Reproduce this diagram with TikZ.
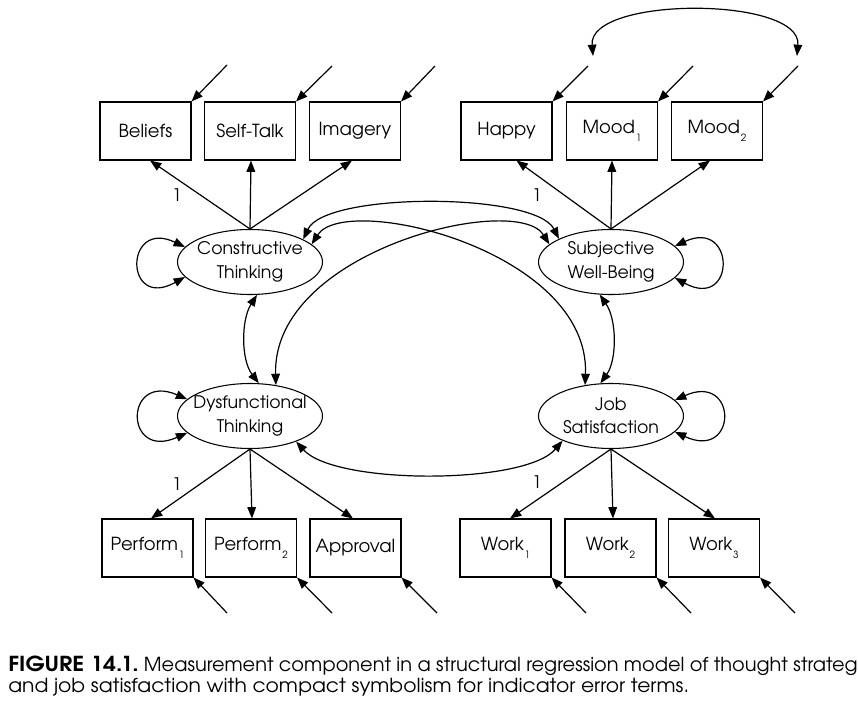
\documentclass[tikz,border=0pt]{standalone}
\usepackage{fontspec}
\setmainfont{TeX Gyre Adventor}
\usetikzlibrary{arrows.meta,calc,shapes.geometric}
\newcommand\lsub[1]{\kern0.6pt\raisebox{-6.5pt}{\fontsize{7.5}{8}\selectfont #1}}
\begin{document}
\begin{tikzpicture}[x=0.75pt,y=-0.75pt,
  ind/.style={draw,line width=0.8pt,minimum width=68.25pt,minimum height=43.5pt,inner sep=0pt,font=\fontsize{13.5}{16}\selectfont},
  lat/.style={draw,ellipse,line width=0.8pt,minimum width=108.75pt,minimum height=48.75pt,inner sep=0pt},
  lattxt/.style={align=center,font=\fontsize{13}{17.5}\selectfont,inner sep=0pt},
  arr/.style={line width=0.9pt,-{Triangle[length=8.5pt,width=6.5pt]}},
  darr/.style={line width=0.9pt,{Triangle[length=8.5pt,width=6.5pt]}-{Triangle[length=8.5pt,width=6.5pt]}},
  lbl/.style={font=\fontsize{13}{15}\selectfont,inner sep=0pt},
  captxt/.style={anchor=base west,inner sep=0pt,font=\fontsize{14.5}{17}\selectfont}
]
\useasboundingbox (0,0) rectangle (858,710);
% indicators
\node[ind] (bel) at (145.5,131) {Beliefs};
\node[ind] (st) at (250,131) {Self-Talk};
\node[ind] (img) at (355,131) {Imagery};
\node[ind] (hap) at (506.5,131) {Happy};
\node[ind] (m1) at (612,131) {Mood\lsub{1}};
\node[ind] (m2) at (717,131) {Mood\lsub{2}};
\node[ind] (p1) at (147.5,548) {Perform\lsub{1}};
\node[ind] (p2) at (251,548) {Perform\lsub{2}};
\node[ind] (app) at (355.5,548) {Approval};
\node[ind] (w1) at (505.5,548) {Work\lsub{1}};
\node[ind] (w2) at (610.5,548) {Work\lsub{2}};
\node[ind] (w3) at (714,548) {Work\lsub{3}};
% latents
\node[lat] (ct) at (250,262) {};
\node[lattxt] (ctt) at (ct) {Constructive\\Thinking};
\node[lat] (sw) at (611,262) {};
\node[lattxt] (swt) at (sw) {Subjective\\Well-Being};
\node[lat] (dt) at (250,416) {};
\node[lattxt] (dtt) at (dt) {Dysfunctional\\Thinking};
\node[lat] (js) at (611,416) {};
\node[lattxt] (jst) at (js) {Job\\Satisfaction};
% loadings
\draw[arr] (ct.north) -- ($(bel.south)+(4.5,0)$);
\draw[arr] (ct.north) -- ($(st.south)+(1,0)$);
\draw[arr] (ct.north) -- ($(img.south)+(-3,0)$);
\draw[arr] (sw.north) -- ($(hap.south)+(10,0)$);
\draw[arr] (sw.north) -- (m1.south);
\draw[arr] (sw.north) -- ($(m2.south)+(-7,0)$);
\draw[arr] (dt.south) -- ($(p1.north)+(3.5,0)$);
\draw[arr] (dt.south) -- ($(p2.north)+(1,0)$);
\draw[arr] (dt.south) -- ($(app.north)+(-2.5,0)$);
\draw[arr] (js.south) -- ($(w1.north)+(4.5,0)$);
\draw[arr] (js.south) -- ($(w2.north)+(2.5,0)$);
\draw[arr] (js.south) -- ($(w3.north)+(1,0)$);
\node[lbl] (l1) at (177,195) {1};
\node[lbl] (l2) at (537,195) {1};
\node[lbl] (l3) at (177,484) {1};
\node[lbl] (l4) at (537,482) {1};
% error terms
\coordinate (eb) at (227,65);
\coordinate (es) at (332,66);
\coordinate (ei) at (435,66);
\coordinate (eh) at (588,66);
\coordinate (em1) at (693,66);
\coordinate (em2) at (798,66);
\coordinate (ep1) at (227,613);
\coordinate (ep2) at (332,613);
\coordinate (eap) at (437,613);
\coordinate (ew1) at (586,613);
\coordinate (ew2) at (691,613);
\coordinate (ew3) at (795,613);
\draw[arr] (eb) -- (bel.north east);
\draw[arr] (es) -- (st.north east);
\draw[arr] (ei) -- (img.north east);
\draw[arr] (eh) -- (hap.north east);
\draw[arr] (em1) -- (m1.north east);
\draw[arr] (em2) -- (m2.north east);
\draw[arr] (ep1) -- (p1.south east);
\draw[arr] (ep2) -- (p2.south east);
\draw[arr] (eap) -- (app.south east);
\draw[arr] (ew1) -- (w1.south east);
\draw[arr] (ew2) -- (w2.south east);
\draw[arr] (ew3) -- (w3.south east);
% correlated errors
\coordinate (ch) at (593,56);
\coordinate (cm) at (797,56);
\draw[darr] (ch) .. controls (588,-4) and (802,-4) .. (cm);
% covariances
\draw[darr] (ct.23) .. controls (325,192) and (535,192) .. (sw.156);
\draw[darr] (ct.16) .. controls (345,192) and (590,250) .. (js.130);
\draw[darr] (dt.50) .. controls (272,250) and (517,192) .. (sw.164);
\draw[darr] (ct.282) .. controls (241,320) and (241,360) .. (dt.75);
\draw[darr] (sw.251) .. controls (617,320) and (617,360) .. (js.108);
\draw[darr] (dt.331) .. controls (335,485) and (525,485) .. (js.207);
% variances
\draw[darr] (ct.167) .. controls (124,218) and (124,311) .. (ct.193);
\draw[darr] (dt.165) .. controls (124,372) and (124,461) .. (dt.195);
\draw[darr] (sw.14) .. controls (736,218) and (736,311) .. (sw.346);
\draw[darr] (js.14) .. controls (738,372) and (738,461) .. (js.346);
% caption
\node[captxt] (cap1) at (8,671) {\scalebox{1.1}[1]{\fontsize{15.5}{17}\selectfont\textbf{FIGURE 14.1.}}\hspace{4pt}\scalebox{1.0}[1]{Measurement component in a structural regression model of thought strateg}};
\node[captxt] (cap2) at (8,692) {\scalebox{1.05}[1]{and job satisfaction with compact symbolism for indicator error terms.}};
\end{tikzpicture}
\end{document}
